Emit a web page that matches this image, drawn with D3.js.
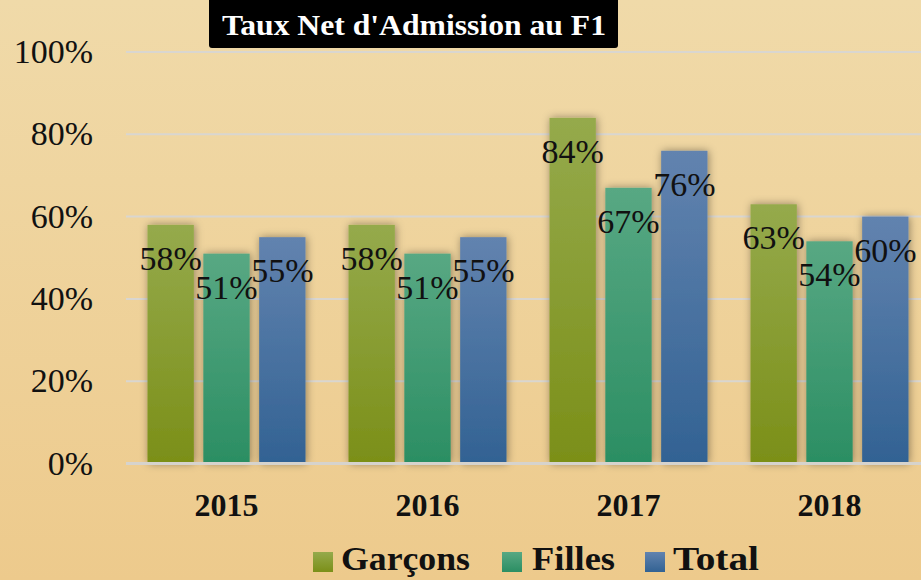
<!DOCTYPE html>
<html>
<head>
<meta charset="utf-8">
<script src="https://cdn.jsdelivr.net/npm/d3@7"></script>
<style>
  html, body { margin: 0; padding: 0; }
  body { width: 921px; height: 580px; overflow: hidden; }
</style>
</head>
<body>
<div id="chart"></div>
<script>
const years = ["2015", "2016", "2017", "2018"];
const series = ["Garçons", "Filles", "Total"];
const garcons = [0.58, 0.58, 0.84, 0.63];
const filles = [0.51, 0.51, 0.67, 0.54];
const total = [0.55, 0.55, 0.76, 0.60];
const yTicks = [0, 0.2, 0.4, 0.6, 0.8, 1.0];
const title = "Taux Net d'Admission au F1";

const values = { "Garçons": garcons, "Filles": filles, "Total": total };
const colors = {
    "Garçons": ["#95aa4c", "#7b8f18"],
    "Filles": ["#58a883", "#2b8e63"],
    "Total": ["#6283af", "#326293"]
};
const serif = "'Liberation Serif', 'DejaVu Serif', serif";

const width = 921, height = 580;

const svg = d3.select("#chart")
    .append("svg")
    .attr("width", width)
    .attr("height", height);

const defs = svg.append("defs");

// fond en dégradé
const bg = defs.append("linearGradient")
    .attr("id", "bg")
    .attr("x1", 0).attr("y1", 0).attr("x2", 0).attr("y2", 1);
bg.append("stop").attr("offset", "0%").attr("stop-color", "#f0daa9");
bg.append("stop").attr("offset", "100%").attr("stop-color", "#edca8c");

series.forEach((s, i) => {
    const lg = defs.append("linearGradient")
        .attr("id", "grad" + i)
        .attr("x1", 0).attr("y1", 0).attr("x2", 0).attr("y2", 1);
    lg.append("stop").attr("offset", "0%").attr("stop-color", colors[s][0]);
    lg.append("stop").attr("offset", "100%").attr("stop-color", colors[s][1]);
});

const shadow = defs.append("filter")
    .attr("id", "shadow")
    .attr("x", "-30%").attr("y", "-10%")
    .attr("width", "160%").attr("height", "120%");
shadow.append("feDropShadow")
    .attr("dx", 1).attr("dy", 0)
    .attr("stdDeviation", 4)
    .attr("flood-color", "#000")
    .attr("flood-opacity", 0.4);

svg.append("rect")
    .attr("width", width)
    .attr("height", height)
    .attr("fill", "url(#bg)");

const x0 = d3.scaleBand()
    .domain(years)
    .range([126, 930]);

const x1 = d3.scaleBand()
    .domain(series)
    .range([21.5, x0.bandwidth() - 21.5])
    .paddingInner(0.17);

const y = d3.scaleLinear()
    .domain([0, 1])
    .range([463.5, 52]);

// grille
svg.append("g")
    .selectAll("line")
    .data(yTicks.filter(d => d > 0))
    .join("line")
    .attr("x1", 126)
    .attr("x2", width)
    .attr("y1", d => y(d))
    .attr("y2", d => y(d))
    .attr("stroke", "#d9d6d0")
    .attr("stroke-width", 2);

// étiquettes de l'axe Y
svg.append("g")
    .selectAll("text")
    .data(yTicks)
    .join("text")
    .attr("x", 93)
    .attr("y", d => y(d) + 11)
    .attr("text-anchor", "end")
    .attr("font-family", serif)
    .attr("font-size", 34)
    .attr("fill", "#111")
    .text(d => d3.format(".0%")(d));

// barres
const groups = svg.append("g")
    .selectAll("g")
    .data(years)
    .join("g")
    .attr("transform", d => `translate(${x0(d)},0)`);

groups.selectAll("rect")
    .data((yr, j) => series.map((s, i) => ({ s, i, v: values[s][j] })))
    .join("rect")
    .attr("x", d => x1(d.s))
    .attr("y", d => y(d.v))
    .attr("width", x1.bandwidth())
    .attr("height", d => y(0) - y(d.v))
    .attr("fill", d => `url(#grad${d.i})`)
    .attr("filter", "url(#shadow)");

// axe de base
svg.append("line")
    .attr("x1", 126)
    .attr("x2", width)
    .attr("y1", y(0))
    .attr("y2", y(0))
    .attr("stroke", "#d6d3cd")
    .attr("stroke-width", 3);

// étiquettes de données
groups.selectAll("text.val")
    .data((yr, j) => series.map((s, i) => ({ s, i, v: values[s][j] })))
    .join("text")
    .attr("class", "val")
    .attr("x", d => x1(d.s) + x1.bandwidth() / 2)
    .attr("y", d => y(d.v) + 45)
    .attr("text-anchor", "middle")
    .attr("font-family", serif)
    .attr("font-size", 34)
    .attr("fill", "#111")
    .text(d => d3.format(".0%")(d.v));

// étiquettes des années
svg.append("g")
    .selectAll("text")
    .data(years)
    .join("text")
    .attr("x", d => x0(d) + x0.bandwidth() / 2)
    .attr("y", 516)
    .attr("text-anchor", "middle")
    .attr("font-family", serif)
    .attr("font-weight", "bold")
    .attr("font-size", 32)
    .attr("fill", "#111")
    .text(d => d);

// titre
svg.append("rect")
    .attr("x", 209)
    .attr("y", -6)
    .attr("width", 409)
    .attr("height", 54)
    .attr("rx", 3)
    .attr("fill", "#000");
svg.append("text")
    .attr("x", 222)
    .attr("y", 35)
    .attr("font-family", serif)
    .attr("font-weight", "bold")
    .attr("font-size", 29)
    .attr("fill", "#fff")
    .attr("textLength", 384)
    .attr("lengthAdjust", "spacingAndGlyphs")
    .text(title);

// légende
const legendPos = [
    { s: "Garçons", box: 313, text: 341, w: 129 },
    { s: "Filles", box: 502, text: 532, w: 83 },
    { s: "Total", box: 645, text: 673, w: 86 }
];
const legend = svg.append("g")
    .selectAll("g")
    .data(legendPos)
    .join("g");
legend.append("rect")
    .attr("x", d => d.box)
    .attr("y", 552)
    .attr("width", 20)
    .attr("height", 20)
    .attr("fill", d => `url(#grad${series.indexOf(d.s)})`);
legend.append("text")
    .attr("x", d => d.text)
    .attr("y", 570)
    .attr("font-family", serif)
    .attr("font-weight", "bold")
    .attr("font-size", 33)
    .attr("fill", "#111")
    .attr("textLength", d => d.w)
    .attr("lengthAdjust", "spacingAndGlyphs")
    .text(d => d.s);
</script>
</body>
</html>
